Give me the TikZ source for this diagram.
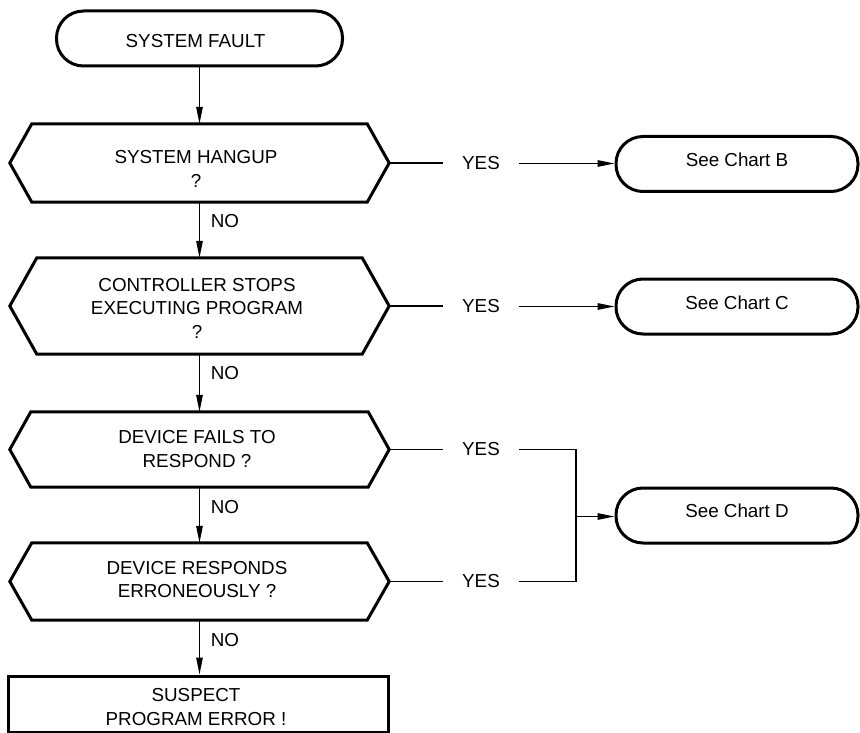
\documentclass[tikz,border=0pt]{standalone}
\usepackage{fontspec}
\setmainfont{Liberation Sans}
\usetikzlibrary{arrows.meta}
\begin{document}
\begin{tikzpicture}[x=1pt,y=-1pt,
  every node/.style={font=\fontsize{18.8}{23.5}\selectfont, inner sep=0pt, align=center},
  shapeline/.style={line width=3pt, line join=miter},
  term/.style={draw, line width=3pt, rounded corners=27pt, minimum width=#1, minimum height=55pt},
  frame/.style={minimum width=379pt, minimum height=#1},
  conn/.style={line width=1.3pt},
  arr/.style={conn, -{Triangle[length=17pt,width=6.5pt]}},
  lbl/.style={inner xsep=19pt, inner ysep=2pt},
]
\useasboundingbox (0,0) rectangle (860,733);
\newcommand\hexdraw[2]{\draw[shapeline] (#1.west) -- ([xshift=#2]#1.north west) -- ([xshift=-#2]#1.north east) -- (#1.east) -- ([xshift=-#2]#1.south east) -- ([xshift=#2]#1.south west) -- cycle;}

% start
\node[term=286pt] (sf) at (199.5,38.5) {};
\node (sft) at (195.5,41.5) {SYSTEM FAULT};

% decisions
\node[frame=78pt] (h1) at (199.5,163) {};
\hexdraw{h1}{22pt}
\node (h1t) at (196,169) {SYSTEM HANGUP\\?};

\node[frame=96pt] (h2) at (199.5,306) {};
\hexdraw{h2}{27pt}
\node (h2t) at (197,308) {CONTROLLER STOPS\\EXECUTING PROGRAM\\?};

\node[frame=75pt] (h3) at (199.5,449.5) {};
\hexdraw{h3}{21pt}
\node (h3t) at (197,449) {DEVICE FAILS TO\\RESPOND ?};

\node[frame=77pt] (h4) at (199.5,581.5) {};
\hexdraw{h4}{22pt}
\node (h4t) at (197,579.5) {DEVICE RESPONDS\\ERRONEOUSLY ?};

% end box
\node[draw, line width=3pt, minimum width=380pt, minimum height=56pt] (pe) at (198,704) {};
\node (pet) at (196,707) {SUSPECT\\PROGRAM ERROR !};

% charts
\node[term=242pt] (cb) at (737,164) {};
\node (cbt) at (737,160) {See Chart B};
\node[term=242pt] (cc) at (737,306.5) {};
\node (cct) at (737,303) {See Chart C};
\node[term=242pt] (cd) at (737,515.5) {};
\node (cdt) at (737,511) {See Chart D};

% YES labels
\node[lbl] (y1) at (481,163.5) {YES};
\node[lbl] (y2) at (481,306.5) {YES};
\node[lbl] (y3) at (481,449.5) {YES};
\node[lbl] (y4) at (481,581.5) {YES};
\coordinate (j) at (576,516.5);

% NO labels
\node (n1) at (225,221) {NO};
\node (n2) at (225,373) {NO};
\node (n3) at (225,507) {NO};
\node (n4) at (225,640) {NO};

% connectors
\draw[arr] (sf) -- (h1);
\draw[arr] (h1) -- (h2);
\draw[arr] (h2) -- (h3);
\draw[arr] (h3) -- (h4);
\draw[arr] (h4.south) -- (h4.south |- pe.north);

\draw[conn] (h1.east) -- (h1.east -| y1.west);
\draw[arr] (y1.east) -- (y1.east -| cb.west);
\draw[conn] (h2.east) -- (h2.east -| y2.west);
\draw[arr] (y2.east) -- (y2.east -| cc.west);
\draw[conn] (h3.east) -- (y3.west);
\draw[conn] (h4.east) -- (y4.west);
\draw[conn] (y3.east) -| (j);
\draw[conn] (y4.east) -| (j);
\draw[arr] (j) -- (j -| cd.west);
\end{tikzpicture}
\end{document}
